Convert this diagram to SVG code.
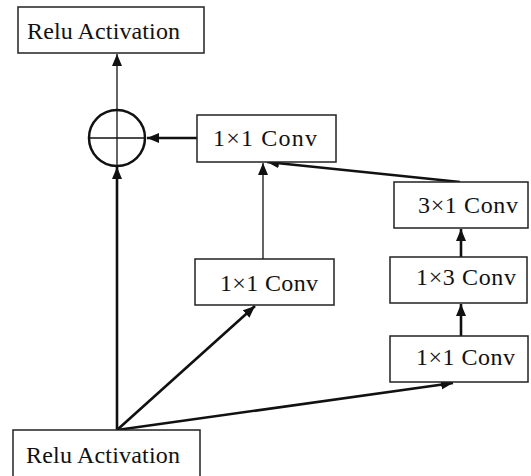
<svg xmlns="http://www.w3.org/2000/svg" width="531" height="476" viewBox="0 0 531 476">
<style>
.box{fill:#fff;stroke:#222;stroke-width:1.5}
.lbl{font-family:"Liberation Serif","Times New Roman",serif;font-size:24px;fill:#111}
.thin{stroke:#111;stroke-width:1.3;fill:none}
.thick{stroke:#111;stroke-width:2.6;fill:none}
</style>
<defs>
<marker id="ah" markerUnits="userSpaceOnUse" markerWidth="14" markerHeight="12" refX="12" refY="5" orient="auto">
<path d="M0,0 L12,5 L0,10 Z" fill="#111"/>
</marker>
</defs>
<rect width="531" height="476" fill="#fff"/>
<g id="connectors">
<line class="thin" x1="117" y1="109" x2="117" y2="54" marker-end="url(#ah)"/>
<line class="thick" x1="197" y1="138" x2="147" y2="138" marker-end="url(#ah)"/>
<line class="thick" x1="117" y1="430" x2="117" y2="167" marker-end="url(#ah)"/>
<line class="thin" x1="263" y1="259" x2="263" y2="163" marker-end="url(#ah)"/>
<line class="thick" x1="460" y1="182" x2="267" y2="162" marker-end="url(#ah)"/>
<line class="thick" x1="461" y1="257" x2="461" y2="229" marker-end="url(#ah)"/>
<line class="thick" x1="461" y1="336" x2="461" y2="304" marker-end="url(#ah)"/>
<line class="thick" x1="117" y1="430" x2="255" y2="306" marker-end="url(#ah)"/>
<line class="thick" x1="117" y1="430" x2="453" y2="383" marker-end="url(#ah)"/>
</g>
<g id="relu_top">
<rect class="box" x="18" y="7" width="186" height="46"/>
<text class="lbl" x="27" y="39" textLength="153" lengthAdjust="spacing">Relu Activation</text>
</g>
<g id="sum">
<circle cx="117" cy="138" r="28" fill="#fff" stroke="#111" stroke-width="2.5"/>
<line x1="89" y1="138" x2="145" y2="138" stroke="#111" stroke-width="1.3"/>
<line x1="117" y1="110" x2="117" y2="166" stroke="#111" stroke-width="1.3"/>
</g>
<g id="conv1x1_top">
<rect class="box" x="197" y="115" width="139" height="47"/>
<text class="lbl" x="213" y="146" textLength="104" lengthAdjust="spacing">1×1 Conv</text>
</g>
<g id="conv3x1">
<rect class="box" x="394" y="182" width="134" height="46"/>
<text class="lbl" x="418" y="213" textLength="100" lengthAdjust="spacing">3×1 Conv</text>
</g>
<g id="conv1x1_mid">
<rect class="box" x="195" y="259" width="139" height="46"/>
<text class="lbl" x="220" y="291" textLength="98" lengthAdjust="spacing">1×1 Conv</text>
</g>
<g id="conv1x3">
<rect class="box" x="390" y="257" width="137" height="46"/>
<text class="lbl" x="416" y="285" textLength="100" lengthAdjust="spacing">1×3 Conv</text>
</g>
<g id="conv1x1_right">
<rect class="box" x="390" y="336" width="138" height="46"/>
<text class="lbl" x="416" y="365" textLength="99" lengthAdjust="spacing">1×1 Conv</text>
</g>
<g id="relu_bottom">
<rect class="box" x="13" y="430" width="187" height="60"/>
<text class="lbl" x="26" y="463" textLength="154" lengthAdjust="spacing">Relu Activation</text>
</g>
</svg>
